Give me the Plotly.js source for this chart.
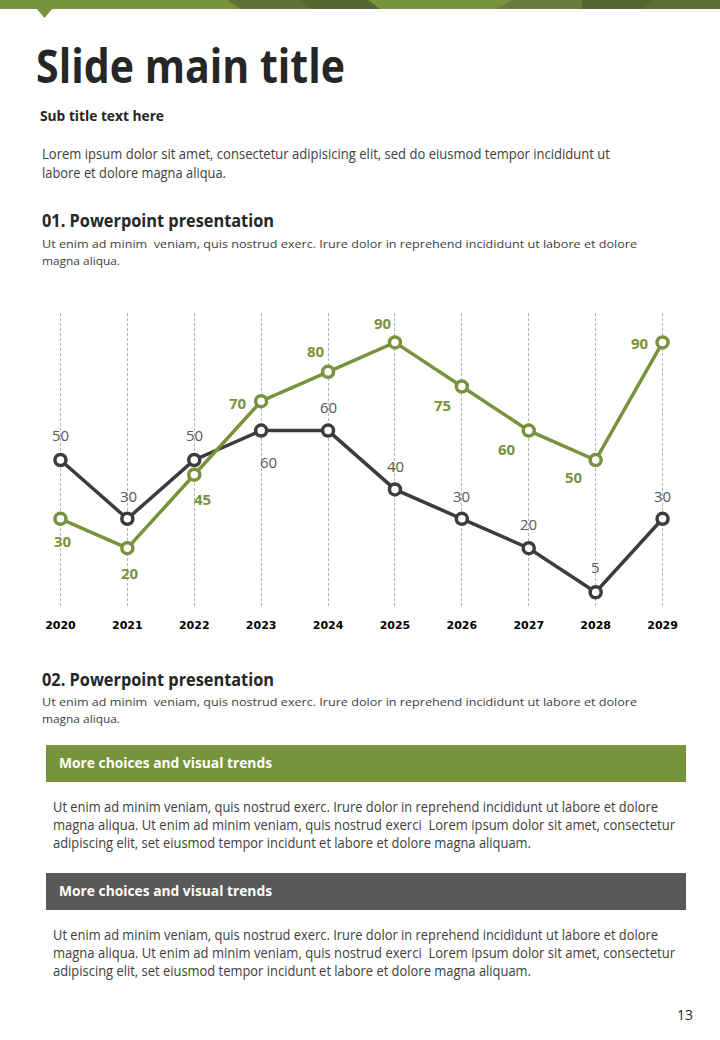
<!DOCTYPE html>
<html>
<head>
<meta charset="utf-8">
<script src="https://cdn.plot.ly/plotly-3.0.1.min.js"></script>
<style>
  html, body { margin:0; padding:0; background:#fff; }
  body { width:720px; height:1040px; position:relative; overflow:hidden; font-family:"Open Sans", "Noto Sans", sans-serif; color:#262626; }
  .t { position:absolute; white-space:nowrap; transform-origin:0 0; }
  .title { left:36px; top:37px; font-size:46px; font-weight:700; line-height:56px; color:#262626; }
  .sub { left:40px; top:106px; font-size:14px; font-weight:700; line-height:20px; color:#262626; }
  .p1 { left:42px; font-size:14px; line-height:19px; color:#404040; }
  .h2 { left:42px; font-size:17px; font-weight:700; line-height:22px; color:#262626; }
  .p2 { left:42px; font-size:11.5px; line-height:17px; color:#404040; }
  .band { position:absolute; left:46px; width:640px; height:37px; }
  .bandtxt { left:59px; font-size:14px; font-weight:700; line-height:20px; color:#ffffff; }
  .p3 { left:53px; font-size:14px; line-height:18px; color:#404040; }
  .pg { left:677px; top:1005px; font-size:14px; line-height:20px; color:#262626; }
  #chart { position:absolute; left:0; top:290px; width:720px; height:360px; }
</style>
</head>
<body>
<svg width="720" height="20" style="position:absolute;left:0;top:0">
  <rect x="0" y="0" width="720" height="9" fill="#77933c"/>
  <polygon points="36,8 53,8 44.5,18" fill="#77933c"/>
  <polygon points="228,0 300,0 310,9 240,9" fill="#5f7038"/>
  <polygon points="300,0 368,0 380,9 310,9" fill="#566630"/>
  <polygon points="512,0 582,0 582,9 497,9" fill="#687c41"/>
  <polygon points="582,0 657,0 643,9 582,9" fill="#556530"/>
  <polygon points="657,0 720,0 720,9 643,9" fill="#5c6d36"/>
</svg>

<div class="t title" data-w="309">Slide main title</div>
<div class="t sub" data-w="124">Sub title text here</div>
<div class="t p1" style="top:144px" data-w="568">Lorem ipsum dolor sit amet, consectetur adipisicing elit, sed do eiusmod tempor incididunt ut</div>
<div class="t p1" style="top:163px" data-w="184">labore et dolore magna aliqua.</div>

<div class="t h2" style="top:210px" data-w="232">01. Powerpoint presentation</div>
<div class="t p2" style="top:235px" data-w="595">Ut enim ad minim&nbsp; veniam, quis nostrud exerc. Irure dolor in reprehend incididunt ut labore et dolore</div>
<div class="t p2" style="top:252px" data-w="78">magna aliqua.</div>

<div id="chart"></div>

<div class="t h2" style="top:669px" data-w="232">02. Powerpoint presentation</div>
<div class="t p2" style="top:693px" data-w="595">Ut enim ad minim&nbsp; veniam, quis nostrud exerc. Irure dolor in reprehend incididunt ut labore et dolore</div>
<div class="t p2" style="top:710px" data-w="78">magna aliqua.</div>

<div class="band" style="top:745px;background:#77933c"></div>
<div class="t bandtxt" style="top:753px" data-w="213">More choices and visual trends</div>
<div class="t p3" style="top:798px" data-w="605">Ut enim ad minim veniam, quis nostrud exerc. Irure dolor in reprehend incididunt ut labore et dolore</div>
<div class="t p3" style="top:816px" data-w="622">magna aliqua. Ut enim ad minim veniam, quis nostrud exerci&nbsp; Lorem ipsum dolor sit amet, consectetur</div>
<div class="t p3" style="top:834px" data-w="478">adipiscing elit, set eiusmod tempor incidunt et labore et dolore magna aliquam.</div>

<div class="band" style="top:873px;background:#595959"></div>
<div class="t bandtxt" style="top:881px" data-w="213">More choices and visual trends</div>
<div class="t p3" style="top:926px" data-w="605">Ut enim ad minim veniam, quis nostrud exerc. Irure dolor in reprehend incididunt ut labore et dolore</div>
<div class="t p3" style="top:944px" data-w="622">magna aliqua. Ut enim ad minim veniam, quis nostrud exerci&nbsp; Lorem ipsum dolor sit amet, consectetur</div>
<div class="t p3" style="top:962px" data-w="478">adipiscing elit, set eiusmod tempor incidunt et labore et dolore magna aliquam.</div>

<div class="t pg">13</div>

<script>
// ---- data ----
const years = [2020, 2021, 2022, 2023, 2024, 2025, 2026, 2027, 2028, 2029];
const yearLabels = ["2020", "2021", "2022", "2023", "2024", "2025", "2026", "2027", "2028", "2029"];
const darkSeries = [50, 30, 50, 60, 60, 40, 30, 20, 5, 30];
const greenSeries = [30, 20, 45, 70, 80, 90, 75, 60, 50, 90];

// label offsets in pixels (style, not data): dx right, dy down
const darkLabelDx = [0, 1, 0, 7, 0, 1, 0, 0, 0, 0];
const darkLabelDy = [-25, -23, -25, 31, -24, -23, -23, -24, -25, -23];
const greenLabelDx = [3, 3, 8, -23, -12, -12, -19, -22, -22, -23];
const greenLabelDy = [22, 25, 24, 2, -21, -19, 18, 18, 17, 1];

const GREEN = "#77933c";
const DARK = "#3c3c3c";

// fit text widths
document.querySelectorAll('.t[data-w]').forEach(el => {
  const w = parseFloat(el.getAttribute('data-w'));
  const nat = el.getBoundingClientRect().width;
  if (nat > 0) el.style.transform = 'scaleX(' + (w / nat) + ')';
});

const traces = [
  {
    x: years, y: darkSeries, type: "scatter", mode: "lines+markers",
    line: { color: DARK, width: 3.5 },
    marker: { symbol: "circle", size: 11, color: "#ffffff", line: { color: DARK, width: 3.5 } },
    cliponaxis: false, hoverinfo: "skip"
  },
  {
    x: years, y: greenSeries, type: "scatter", mode: "lines+markers",
    line: { color: GREEN, width: 3.5 },
    marker: { symbol: "circle", size: 11, color: "#ffffff", line: { color: GREEN, width: 3.5 } },
    cliponaxis: false, hoverinfo: "skip"
  }
];

const annotations = [];
years.forEach((yr, i) => {
  annotations.push({
    x: yr, y: darkSeries[i], xref: "x", yref: "y", text: String(darkSeries[i]),
    showarrow: false, xshift: darkLabelDx[i], yshift: -darkLabelDy[i],
    font: { family: "Open Sans, Noto Sans, sans-serif", size: 15, color: "#595959" }
  });
  annotations.push({
    x: yr, y: greenSeries[i], xref: "x", yref: "y", text: String(greenSeries[i]),
    showarrow: false, xshift: greenLabelDx[i], yshift: -greenLabelDy[i],
    font: { family: "Open Sans, Noto Sans, sans-serif", size: 15, color: GREEN, weight: 700 }
  });
});

const layout = {
  width: 720, height: 360,
  margin: { l: 26.5, r: 23.5, t: 23, b: 43 },
  paper_bgcolor: "rgba(0,0,0,0)", plot_bgcolor: "rgba(0,0,0,0)",
  showlegend: false,
  annotations: annotations,
  xaxis: {
    range: [2019.5, 2029.5], tickvals: years, ticktext: yearLabels,
    showgrid: true, gridcolor: "#b5b5b5", gridwidth: 1, griddash: "3px,2px",
    zeroline: false, showline: false,
    ticks: "outside", ticklen: 8, tickcolor: "rgba(0,0,0,0)",
    tickfont: { family: "DejaVu Sans, Verdana, sans-serif", size: 11, color: "#000000", weight: 700 },
    fixedrange: true
  },
  yaxis: {
    range: [0, 100], showgrid: false, zeroline: false, showline: false,
    showticklabels: false, ticks: "", fixedrange: true
  }
};

Plotly.newPlot("chart", traces, layout, { displayModeBar: false, staticPlot: true });
</script>
</body>
</html>
